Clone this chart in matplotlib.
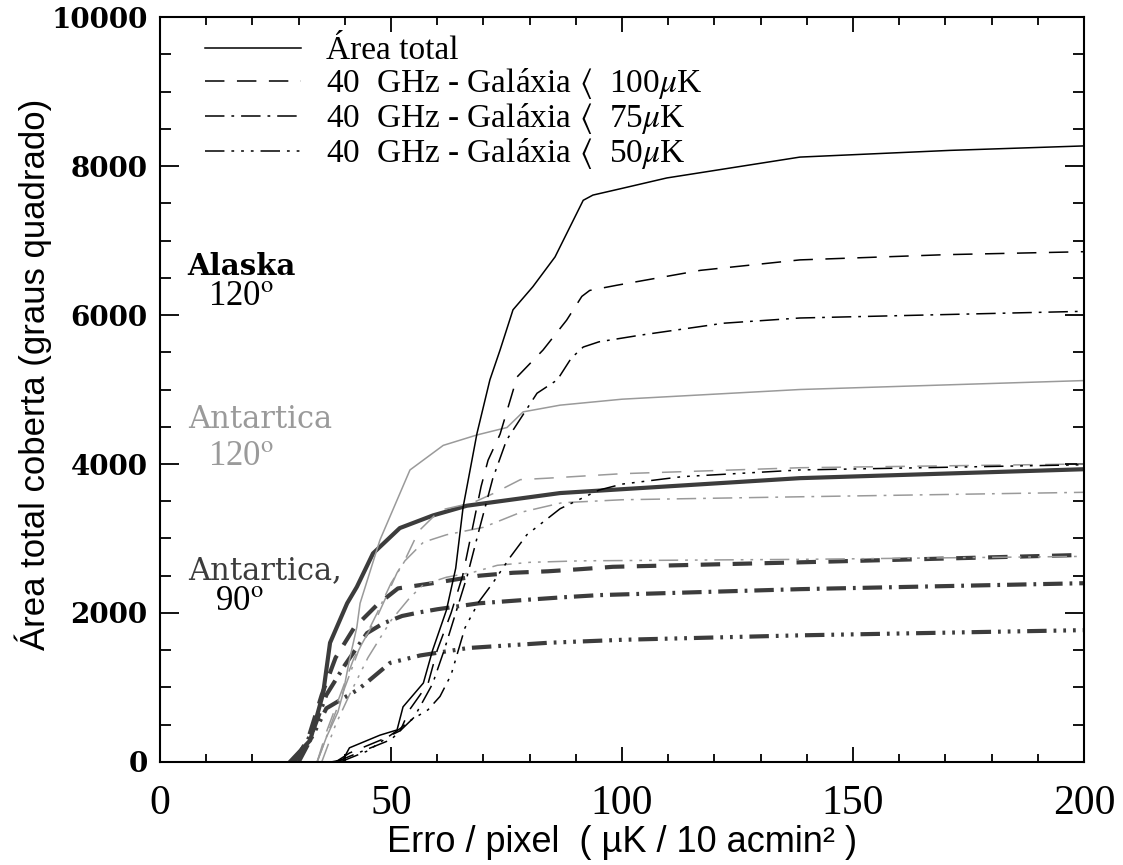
import matplotlib
matplotlib.use("Agg")
import matplotlib.pyplot as plt
from matplotlib.ticker import MultipleLocator

plt.rcParams['mathtext.fontset'] = 'stix'
plt.rcParams['lines.scale_dashes'] = False

# Alaska 120 graus (thin black)
alaska_total_x = [37, 39.6, 41, 47.6, 51.3, 52.6, 57, 59, 62, 64, 65.6, 68.6, 71.4, 73.6, 76.4, 80.7, 85.5, 91.6, 93.7, 100, 109.7, 138.5, 171, 200]
alaska_total_y = [0, 30, 190, 360, 430, 740, 1060, 1500, 2040, 2600, 3420, 4410, 5130, 5530, 6070, 6380, 6780, 7540, 7610, 7700, 7840, 8120, 8210, 8270]
alaska_100_x = [38, 41, 48, 52, 54, 58, 60, 63, 65.5, 67.5, 69.5, 71, 73.6, 77.3, 82.9, 88, 91.3, 93, 98.9, 117, 138.5, 170, 200]
alaska_100_y = [0, 120, 300, 420, 700, 1050, 1500, 2000, 2500, 3100, 3700, 4050, 4400, 5170, 5530, 5930, 6250, 6330, 6400, 6600, 6740, 6810, 6850]
alaska_75_x = [38, 42, 50, 55, 59, 61.5, 64, 66.5, 69, 72, 75, 81.6, 86, 89, 91.6, 95, 104, 122, 138.5, 200]
alaska_75_y = [0, 100, 300, 600, 1050, 1500, 2000, 2500, 3100, 3800, 4320, 4950, 5130, 5420, 5570, 5640, 5730, 5890, 5960, 6050]
alaska_50_x = [39, 45, 52, 54, 58, 60.6, 63, 66, 69, 72, 75.8, 79.4, 86.6, 95, 100, 113, 138.5, 200]
alaska_50_y = [0, 150, 450, 550, 700, 880, 1170, 1800, 2150, 2400, 2750, 3050, 3400, 3650, 3730, 3830, 3920, 3990]

# Antartica 120 graus (thin gray)
ant120_total_x = [34, 36, 38.5, 39.6, 41, 42.6, 43.3, 47.6, 54.1, 61.3, 68.6, 75.1, 78.6, 86.6, 100, 138.5, 200]
ant120_total_y = [0, 330, 670, 920, 1370, 1810, 2130, 2980, 3920, 4250, 4390, 4490, 4700, 4790, 4870, 5000, 5120]
ant120_100_x = [34, 36, 39, 42, 47, 51.3, 53, 56, 60.6, 67.7, 72, 78, 84, 100, 138.5, 200]
ant120_100_y = [0, 400, 900, 1400, 1950, 2540, 2710, 3100, 3380, 3480, 3600, 3790, 3810, 3870, 3950, 4000]
ant120_75_x = [34, 37, 40, 43, 47, 50, 53, 57, 62, 70, 78, 87, 100, 138.5, 200]
ant120_75_y = [0, 500, 1000, 1500, 2000, 2400, 2700, 2950, 3050, 3150, 3350, 3480, 3520, 3560, 3620]
ant120_50_x = [35, 38, 41, 45, 50, 54, 57, 62, 68, 73, 80, 91, 138.5, 200]
ant120_50_y = [0, 500, 900, 1400, 1900, 2200, 2380, 2480, 2550, 2640, 2680, 2700, 2720, 2760]

# Antartica 90 graus (thick dark gray)
ant90_total_x = [28.1, 32.5, 35.3, 36.8, 40.5, 42.6, 46.1, 51.9, 59.1, 66.4, 86.6, 138.5, 200]
ant90_total_y = [0, 290, 920, 1600, 2130, 2350, 2800, 3140, 3310, 3440, 3610, 3810, 3930]
ant90_100_x = [29, 32, 35, 38, 42, 47, 51.5, 59, 69, 76.4, 84, 91.4, 98, 138.5, 200]
ant90_100_y = [0, 300, 900, 1400, 1800, 2110, 2330, 2400, 2500, 2540, 2560, 2590, 2620, 2680, 2780]
ant90_75_x = [29, 33, 36, 40, 44.8, 48.3, 52.4, 56.3, 60, 69, 80, 87, 95, 138.5, 200]
ant90_75_y = [0, 400, 900, 1300, 1730, 1860, 1960, 2010, 2050, 2130, 2180, 2210, 2240, 2320, 2400]
ant90_50_x = [30, 33, 36, 42.8, 45, 49.8, 56.3, 66.7, 84, 100, 138.5, 200]
ant90_50_y = [0, 350, 720, 970, 1080, 1330, 1430, 1530, 1600, 1640, 1700, 1770]

legend_labels = ['Área total',
                 r'40  GHz - Galáxia $\langle$  100$\mu$K',
                 r'40  GHz - Galáxia $\langle$  75$\mu$K',
                 r'40  GHz - Galáxia $\langle$  50$\mu$K']

styles = ['-', (0, (14, 9)), (0, (14, 5, 2, 5)), (0, (14, 5, 2, 5, 2, 5, 2, 5))]

black = '#000000'
gray = '#9a9a9a'
dark = '#3c3c3c'

fig = plt.figure(figsize=(11.23, 8.65), dpi=100)
ax = fig.add_axes([0.1425, 0.1191, 0.8228, 0.8612])

ant90 = [(ant90_total_x, ant90_total_y), (ant90_100_x, ant90_100_y), (ant90_75_x, ant90_75_y), (ant90_50_x, ant90_50_y)]
ant120 = [(ant120_total_x, ant120_total_y), (ant120_100_x, ant120_100_y), (ant120_75_x, ant120_75_y), (ant120_50_x, ant120_50_y)]
alaska = [(alaska_total_x, alaska_total_y), (alaska_100_x, alaska_100_y), (alaska_75_x, alaska_75_y), (alaska_50_x, alaska_50_y)]

for (xs, ys), ls in zip(ant90, styles):
    ax.plot(xs, ys, color=dark, lw=3.0, linestyle=ls)
for (xs, ys), ls in zip(ant120, styles):
    ax.plot(xs, ys, color=gray, lw=1.1, linestyle=ls)
handles = []
for (xs, ys), ls, lab in zip(alaska, styles, legend_labels):
    h, = ax.plot(xs, ys, color=black, lw=1.1, linestyle=ls, label=lab)
    handles.append(h)

ax.set_xlim(0, 200)
ax.set_ylim(0, 10000)
ax.xaxis.set_major_locator(MultipleLocator(50))
ax.xaxis.set_minor_locator(MultipleLocator(10))
ax.yaxis.set_major_locator(MultipleLocator(2000))
ax.yaxis.set_minor_locator(MultipleLocator(500))
ax.tick_params(which='both', direction='in', top=True, right=True, width=1.3)
ax.tick_params(axis='x', which='major', length=11, pad=16)
ax.tick_params(axis='x', which='minor', length=6)
ax.tick_params(axis='y', which='major', length=14, pad=9)
ax.tick_params(axis='y', which='minor', length=8)
for sp in ax.spines.values():
    sp.set_linewidth(1.5)

for t in ax.get_yticklabels():
    t.set_fontfamily('DejaVu Serif')
    t.set_fontweight('bold')
    t.set_fontsize(20)
for t in ax.get_xticklabels():
    t.set_fontfamily('Liberation Serif')
    t.set_fontsize(30)

label_font = ['Liberation Sans Narrow', 'Liberation Sans', 'DejaVu Sans']
ax.set_xlabel('Erro / pixel  ( µK / 10 acmin² )', family=label_font, fontsize=26, labelpad=2)
ax.set_ylabel('Área total coberta (graus quadrado)', family=label_font, fontsize=25)
ax.yaxis.set_label_coords(-0.117, 0.52)

leg = ax.legend(handles=handles, loc='upper left', bbox_to_anchor=(0.016, 1.015),
                frameon=False, handlelength=2.9, handletextpad=0.75, labelspacing=0.0,
                prop={'family': 'Liberation Serif', 'size': 24})

ax.text(0.03, 0.665, 'Alaska', transform=ax.transAxes, family='DejaVu Serif',
        weight='bold', fontsize=21, color=black, va='center')
ax.text(0.052, 0.625, r'120$^{\rm o}$', transform=ax.transAxes, family='Liberation Serif',
        fontsize=25, color=black, va='center')
ax.text(0.03, 0.46, 'Antartica', transform=ax.transAxes, family='DejaVu Serif',
        fontsize=22, color=gray, va='center')
ax.text(0.052, 0.41, r'120$^{\rm o}$', transform=ax.transAxes, family='Liberation Serif',
        fontsize=25, color=gray, va='center')
ax.text(0.03, 0.257, 'Antartica,', transform=ax.transAxes, family='DejaVu Serif',
        fontsize=22, color=dark, va='center')
ax.text(0.06, 0.215, r'90$^{\rm o}$', transform=ax.transAxes, family='Liberation Serif',
        fontsize=25, color=black, va='center')

fig.savefig('out.png', dpi=100)
